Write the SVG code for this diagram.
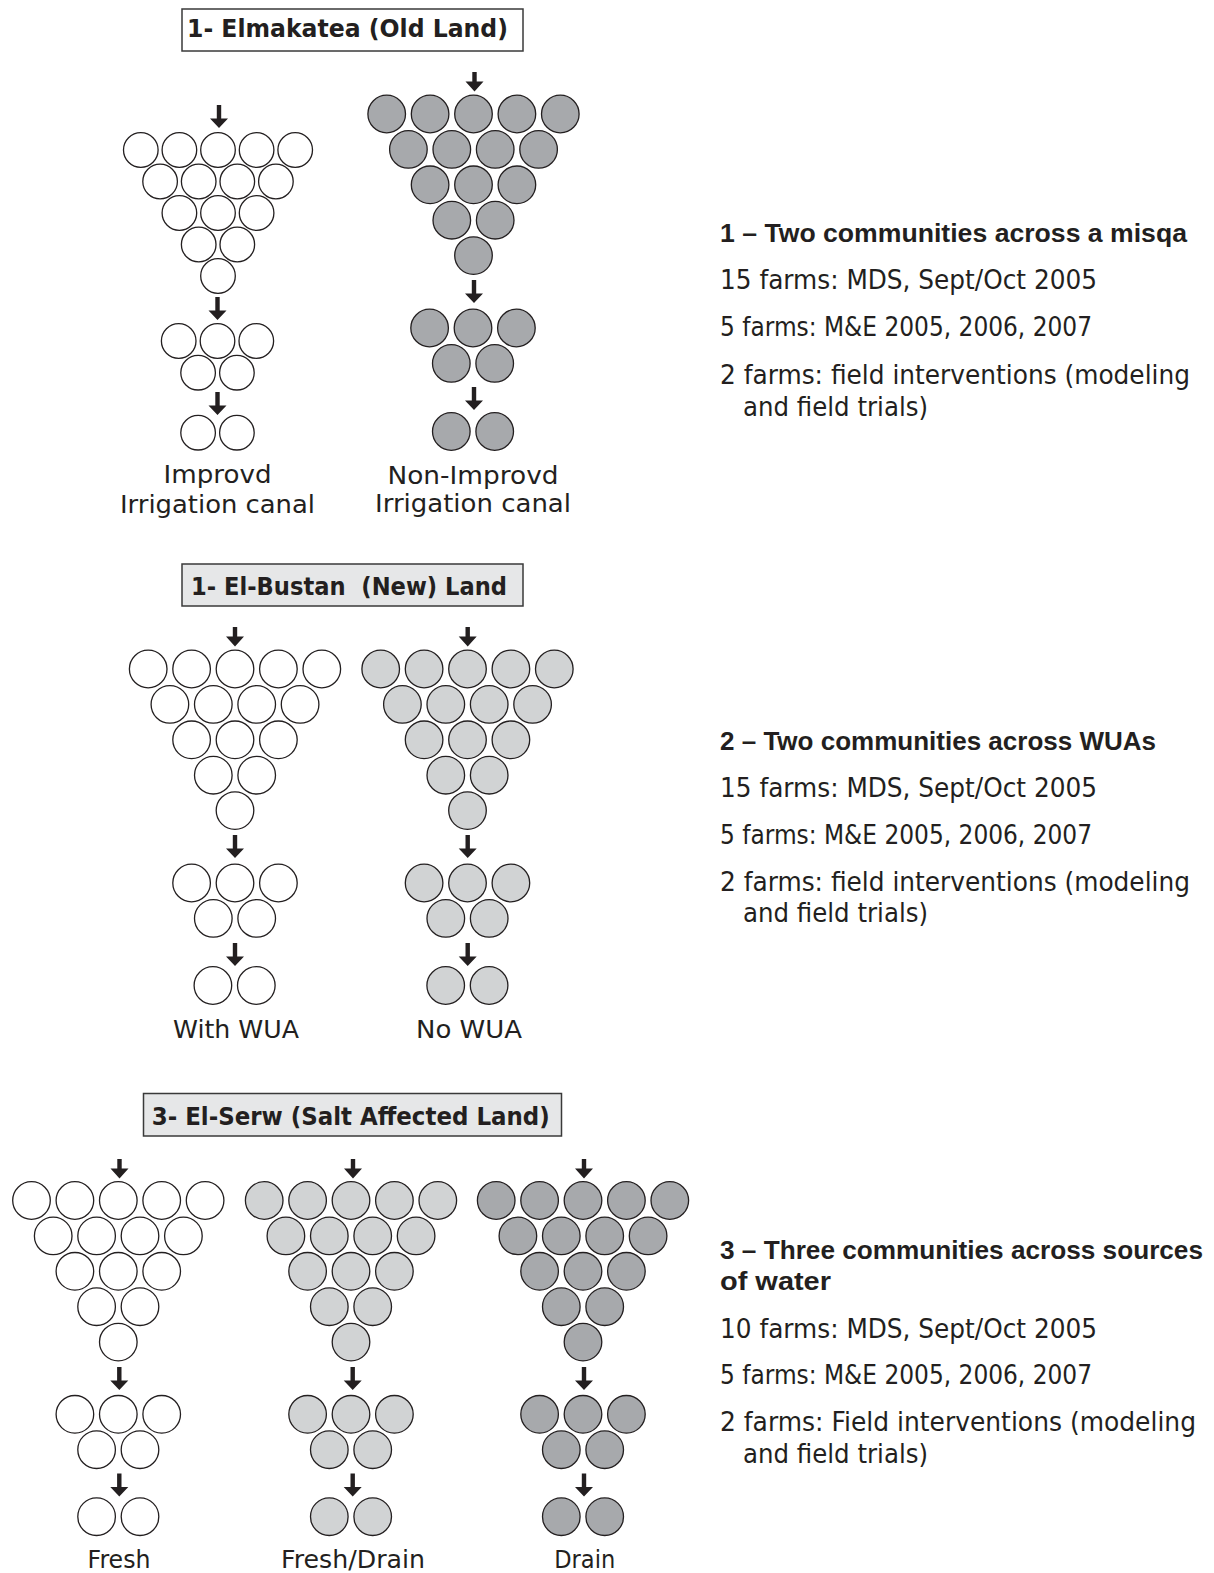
<svg xmlns="http://www.w3.org/2000/svg" xmlns:xlink="http://www.w3.org/1999/xlink" width="1214" height="1573" viewBox="0 0 1214 1573">
<style>
  .c { stroke: #231f20; stroke-width: 1.3; }
  .w { fill: #ffffff; }
  .lg { fill: #d1d3d4; }
  .dg { fill: #a7a9ac; }
  .box { stroke: #3a3a3a; stroke-width: 1.5; }
  .title { font-family: "DejaVu Sans", "Liberation Sans", sans-serif; font-weight: bold; font-size: 25px; fill: #231f20; }
  .lbl { font-family: "DejaVu Sans", "Liberation Sans", sans-serif; font-size: 24px; fill: #231f20; text-anchor: middle; }
  .hd { font-family: "Liberation Sans", "DejaVu Sans", sans-serif; font-weight: bold; font-size: 25px; fill: #231f20; }
  .bd { font-family: "DejaVu Sans", "Liberation Sans", sans-serif; font-size: 26px; fill: #231f20; }
  .arr { fill: #231f20; }
</style>
<defs>
  <g id="t15">
    <circle class="c" cx="-86.8" cy="0" r="18.8"/><circle class="c" cx="-43.4" cy="0" r="18.8"/><circle class="c" cx="0" cy="0" r="18.8"/><circle class="c" cx="43.4" cy="0" r="18.8"/><circle class="c" cx="86.8" cy="0" r="18.8"/>
    <circle class="c" cx="-65.1" cy="35.4" r="18.8"/><circle class="c" cx="-21.7" cy="35.4" r="18.8"/><circle class="c" cx="21.7" cy="35.4" r="18.8"/><circle class="c" cx="65.1" cy="35.4" r="18.8"/>
    <circle class="c" cx="-43.4" cy="70.8" r="18.8"/><circle class="c" cx="0" cy="70.8" r="18.8"/><circle class="c" cx="43.4" cy="70.8" r="18.8"/>
    <circle class="c" cx="-21.7" cy="106.2" r="18.8"/><circle class="c" cx="21.7" cy="106.2" r="18.8"/>
    <circle class="c" cx="0" cy="141.6" r="18.8"/>
  </g>
  <g id="t5">
    <circle class="c" cx="-43.4" cy="0" r="18.8"/><circle class="c" cx="0" cy="0" r="18.8"/><circle class="c" cx="43.4" cy="0" r="18.8"/>
    <circle class="c" cx="-21.7" cy="35.4" r="18.8"/><circle class="c" cx="21.7" cy="35.4" r="18.8"/>
  </g>
  <g id="t2">
    <circle class="c" cx="-21.7" cy="0" r="18.8"/><circle class="c" cx="21.7" cy="0" r="18.8"/>
  </g>
  <g id="s15">
    <circle class="c" cx="-77.2" cy="0" r="17.3"/><circle class="c" cx="-38.6" cy="0" r="17.3"/><circle class="c" cx="0" cy="0" r="17.3"/><circle class="c" cx="38.6" cy="0" r="17.3"/><circle class="c" cx="77.2" cy="0" r="17.3"/>
    <circle class="c" cx="-57.9" cy="31.5" r="17.3"/><circle class="c" cx="-19.3" cy="31.5" r="17.3"/><circle class="c" cx="19.3" cy="31.5" r="17.3"/><circle class="c" cx="57.9" cy="31.5" r="17.3"/>
    <circle class="c" cx="-38.6" cy="63" r="17.3"/><circle class="c" cx="0" cy="63" r="17.3"/><circle class="c" cx="38.6" cy="63" r="17.3"/>
    <circle class="c" cx="-19.3" cy="94.5" r="17.3"/><circle class="c" cx="19.3" cy="94.5" r="17.3"/>
    <circle class="c" cx="0" cy="126" r="17.3"/>
  </g>
  <g id="s5">
    <circle class="c" cx="-38.8" cy="0" r="17.3"/><circle class="c" cx="0" cy="0" r="17.3"/><circle class="c" cx="38.8" cy="0" r="17.3"/>
    <circle class="c" cx="-19.4" cy="31.7" r="17.3"/><circle class="c" cx="19.4" cy="31.7" r="17.3"/>
  </g>
  <g id="s2">
    <circle class="c" cx="-19.4" cy="0" r="17.3"/><circle class="c" cx="19.4" cy="0" r="17.3"/>
  </g>
  <path id="aL" class="arr" d="M-2.2,0 H2.2 V13.5 H9 L0,23 L-9,13.5 H-2.2 Z"/>
  <path id="aS" class="arr" d="M-2.2,0 H2.2 V9.5 H9 L0,19.5 L-9,9.5 H-2.2 Z"/>
</defs>
<rect width="1214" height="1573" fill="#ffffff"/>

<!-- Section 1 -->
<g id="title1">
  <rect class="box" x="182" y="9" width="341" height="42" fill="#ffffff"/>
  <text class="title" x="187" y="37" textLength="321" lengthAdjust="spacingAndGlyphs">1- Elmakatea (Old Land)</text>
</g>
<g id="s1-improved-15" class="w"><use xlink:href="#s15" x="218" y="150"/></g>
<g id="s1-improved-5" class="w"><use xlink:href="#s5" x="217.5" y="341"/></g>
<g id="s1-improved-2" class="w"><use xlink:href="#s2" x="217.5" y="432.7"/></g>
<g id="s1-improved-label">
  <text class="lbl" x="217.5" y="482.7" textLength="108" lengthAdjust="spacingAndGlyphs">Improvd</text>
  <text class="lbl" x="217.5" y="512.7" textLength="195" lengthAdjust="spacingAndGlyphs">Irrigation canal</text>
</g>
<g id="s1-nonimproved-15" class="dg"><use xlink:href="#t15" x="473.5" y="114"/></g>
<g id="s1-nonimproved-5" class="dg"><use xlink:href="#t5" x="473" y="328"/></g>
<g id="s1-nonimproved-2" class="dg"><use xlink:href="#t2" x="473" y="431.5"/></g>
<g id="s1-nonimproved-label">
  <text class="lbl" x="473" y="484" textLength="171" lengthAdjust="spacingAndGlyphs">Non-Improvd</text>
  <text class="lbl" x="473" y="512" textLength="196" lengthAdjust="spacingAndGlyphs">Irrigation canal</text>
</g>
<g id="s1-text">
  <text class="hd" x="720" y="242" textLength="467" lengthAdjust="spacingAndGlyphs">1 – Two communities across a misqa</text>
  <text class="bd" x="720" y="289" textLength="377" lengthAdjust="spacingAndGlyphs">15 farms: MDS, Sept/Oct 2005</text>
  <text class="bd" x="720" y="336" textLength="372" lengthAdjust="spacingAndGlyphs">5 farms: M&amp;E 2005, 2006, 2007</text>
  <text class="bd" x="720" y="384" textLength="470" lengthAdjust="spacingAndGlyphs">2 farms: field interventions (modeling</text>
  <text class="bd" x="743" y="416" textLength="185" lengthAdjust="spacingAndGlyphs">and field trials)</text>
</g>

<!-- Section 2 -->
<g id="title2">
  <rect class="box" x="182" y="564" width="341" height="42" fill="#e6e7e8"/>
  <text class="title" x="191" y="595" textLength="316" lengthAdjust="spacingAndGlyphs" xml:space="preserve">1- El-Bustan  (New) Land</text>
</g>
<g id="s2-wua-15" class="w"><use xlink:href="#t15" x="235" y="669"/></g>
<g id="s2-wua-5" class="w"><use xlink:href="#t5" x="235" y="883"/></g>
<g id="s2-wua-2" class="w"><use xlink:href="#t2" x="234.6" y="985.5"/></g>
<g id="s2-wua-label"><text class="lbl" x="236" y="1038.3" textLength="126" lengthAdjust="spacingAndGlyphs">With WUA</text></g>
<g id="s2-nowua-15" class="lg"><use xlink:href="#t15" x="467.5" y="669"/></g>
<g id="s2-nowua-5" class="lg"><use xlink:href="#t5" x="467.5" y="883"/></g>
<g id="s2-nowua-2" class="lg"><use xlink:href="#t2" x="467.4" y="985.5"/></g>
<g id="s2-nowua-label"><text class="lbl" x="469" y="1038.3" textLength="106" lengthAdjust="spacingAndGlyphs">No WUA</text></g>
<g id="s2-text">
  <text class="hd" x="720" y="750" textLength="436" lengthAdjust="spacingAndGlyphs">2 – Two communities across WUAs</text>
  <text class="bd" x="720" y="797" textLength="377" lengthAdjust="spacingAndGlyphs">15 farms: MDS, Sept/Oct 2005</text>
  <text class="bd" x="720" y="844" textLength="372" lengthAdjust="spacingAndGlyphs">5 farms: M&amp;E 2005, 2006, 2007</text>
  <text class="bd" x="720" y="891" textLength="470" lengthAdjust="spacingAndGlyphs">2 farms: field interventions (modeling</text>
  <text class="bd" x="743" y="922" textLength="185" lengthAdjust="spacingAndGlyphs">and field trials)</text>
</g>

<!-- Section 3 -->
<g id="title3">
  <rect class="box" x="143.5" y="1093.5" width="418" height="42.5" fill="#e6e7e8"/>
  <text class="title" x="151.7" y="1125" textLength="398" lengthAdjust="spacingAndGlyphs">3- El-Serw (Salt Affected Land)</text>
</g>
<g id="s3-fresh-15" class="w"><use xlink:href="#t15" x="118.3" y="1200.5"/></g>
<g id="s3-fresh-5" class="w"><use xlink:href="#t5" x="118.3" y="1414.3"/></g>
<g id="s3-fresh-2" class="w"><use xlink:href="#t2" x="118.3" y="1516.7"/></g>
<g id="s3-fresh-label"><text class="lbl" x="119" y="1567.5" textLength="63" lengthAdjust="spacingAndGlyphs">Fresh</text></g>
<g id="s3-freshdrain-15" class="lg"><use xlink:href="#t15" x="351" y="1200.5"/></g>
<g id="s3-freshdrain-5" class="lg"><use xlink:href="#t5" x="351" y="1414.3"/></g>
<g id="s3-freshdrain-2" class="lg"><use xlink:href="#t2" x="351" y="1516.7"/></g>
<g id="s3-freshdrain-label"><text class="lbl" x="353" y="1567.5" textLength="144" lengthAdjust="spacingAndGlyphs">Fresh/Drain</text></g>
<g id="s3-drain-15" class="dg"><use xlink:href="#t15" x="583" y="1200.5"/></g>
<g id="s3-drain-5" class="dg"><use xlink:href="#t5" x="583" y="1414.3"/></g>
<g id="s3-drain-2" class="dg"><use xlink:href="#t2" x="583" y="1516.7"/></g>
<g id="s3-drain-label"><text class="lbl" x="584.7" y="1567.5" textLength="61" lengthAdjust="spacingAndGlyphs">Drain</text></g>
<g id="s3-text">
  <text class="hd" x="720" y="1259" textLength="483" lengthAdjust="spacingAndGlyphs">3 – Three communities across sources</text>
  <text class="hd" x="720" y="1290" textLength="111" lengthAdjust="spacingAndGlyphs">of water</text>
  <text class="bd" x="720" y="1338" textLength="377" lengthAdjust="spacingAndGlyphs">10 farms: MDS, Sept/Oct 2005</text>
  <text class="bd" x="720" y="1384" textLength="372" lengthAdjust="spacingAndGlyphs">5 farms: M&amp;E 2005, 2006, 2007</text>
  <text class="bd" x="720" y="1431" textLength="476" lengthAdjust="spacingAndGlyphs">2 farms: Field interventions (modeling</text>
  <text class="bd" x="743" y="1463" textLength="185" lengthAdjust="spacingAndGlyphs">and field trials)</text>
</g>

<!-- Connectors -->
<g id="connectors">
  <use xlink:href="#aL" x="219" y="105"/>
  <use xlink:href="#aL" x="217.5" y="297"/>
  <use xlink:href="#aL" x="217.5" y="392"/>
  <use xlink:href="#aS" x="474.5" y="72"/>
  <use xlink:href="#aL" x="474" y="280"/>
  <use xlink:href="#aL" x="474" y="387"/>
  <use xlink:href="#aS" x="235" y="627"/>
  <use xlink:href="#aL" x="235" y="835"/>
  <use xlink:href="#aL" x="235" y="943"/>
  <use xlink:href="#aS" x="467.7" y="627"/>
  <use xlink:href="#aL" x="467.7" y="835"/>
  <use xlink:href="#aL" x="467.7" y="943"/>
  <use xlink:href="#aS" x="119.5" y="1159"/>
  <use xlink:href="#aL" x="119.3" y="1367"/>
  <use xlink:href="#aL" x="119.3" y="1473.5"/>
  <use xlink:href="#aS" x="353" y="1159"/>
  <use xlink:href="#aL" x="352.7" y="1367"/>
  <use xlink:href="#aL" x="352.7" y="1473.5"/>
  <use xlink:href="#aS" x="584" y="1159"/>
  <use xlink:href="#aL" x="584" y="1367"/>
  <use xlink:href="#aL" x="584" y="1473.5"/>
</g>
</svg>
